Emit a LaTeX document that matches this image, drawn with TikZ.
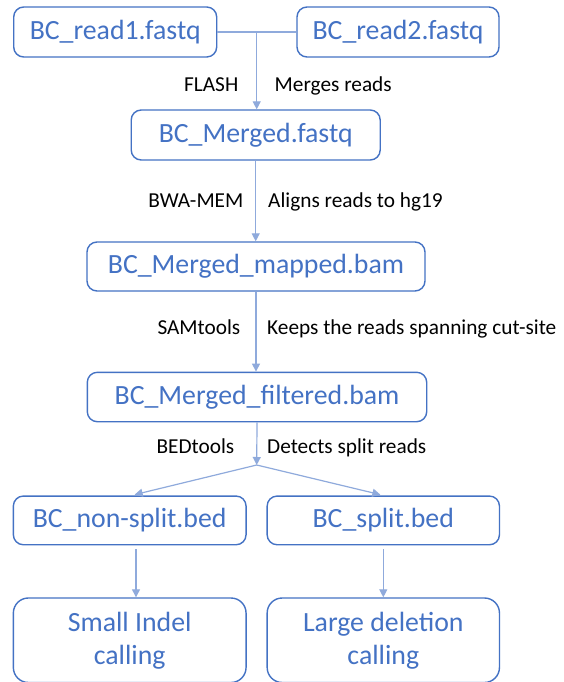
\documentclass[tikz,border=0pt]{standalone}
\usepackage{fontspec}
\setmainfont{Carlito}
\usetikzlibrary{arrows.meta}
\definecolor{boxblue}{HTML}{4472C4}
\definecolor{connblue}{HTML}{8FAADC}
\begin{document}
\begin{tikzpicture}[x=1pt,y=-1pt,
  filebox/.style={draw=boxblue, line width=1.4pt, rounded corners=10pt, text=boxblue,
    inner sep=0pt, font=\fontsize{27.8}{33}\selectfont, align=center},
  conn/.style={draw=connblue, line width=1.2pt},
  arr/.style={conn, -{Triangle[length=8pt,width=8pt]}},
  lbl/.style={inner sep=0pt, font=\fontsize{21.3}{25}\selectfont, text=black}]
\useasboundingbox[fill=white] (0,0) rectangle (563,682);
% boxes
\node[filebox, minimum width=203pt, minimum height=50pt] (r1) at (115.2,32) {BC\_read1.fastq};
\node[filebox, minimum width=202pt, minimum height=50pt] (r2) at (398,32) {BC\_read2.fastq};
\node[filebox, minimum width=249pt, minimum height=50pt] (merged) at (255.7,135) {BC\_Merged.fastq};
\node[filebox, minimum width=338pt, minimum height=49pt] (mapped) at (256,266.5) {BC\_Merged\_mapped.bam};
\node[filebox, minimum width=339.4pt, minimum height=49.4pt] (filtered) at (257,397) {BC\_Merged\_filtered.bam};
\node[filebox, minimum width=232.7pt, minimum height=48.7pt] (nonsplit) at (129.7,520.4) {BC\_non-split.bed};
\node[filebox, minimum width=232.3pt, minimum height=48.7pt] (split) at (383.3,520.4) {BC\_split.bed};
\node[filebox, rounded corners=15pt, minimum width=232.7pt, minimum height=84.5pt] (small) at (129.7,640.25) {Small Indel\\calling};
\node[filebox, rounded corners=15pt, minimum width=232.3pt, minimum height=84.5pt] (large) at (383.3,640.25) {Large deletion\\calling};
% junction points
\coordinate (j) at (256.7,32);
\coordinate (b) at (256.7,465);
% connectors
\draw[conn] (r1.east) -- (r2.west);
\draw[arr] (j) -- (j |- merged.north);
\draw[arr] (merged.south) -- (merged.south |- mapped.north);
\draw[arr] (mapped.south) -- (mapped.south |- filtered.north);
\draw[arr] (filtered.south) -- (b);
\draw[arr, shorten >=3pt] (b) -- ([xshift=2pt]nonsplit.north);
\draw[arr, shorten >=3pt] (b) -- (split.north);
\draw[arr] ([xshift=6.3pt,yshift=-4pt]nonsplit.south) -- ([xshift=6.3pt]small.north);
\draw[arr] ([yshift=-4pt]split.south) -- (large.north);
% labels
\node[lbl, anchor=base east] (l1a) at (238.5,92) {FLASH};
\node[lbl, anchor=base west] (l1b) at (274.5,92) {Merges reads};
\node[lbl, anchor=base east] (l2a) at (243.5,207) {BWA-MEM};
\node[lbl, anchor=base west] (l2b) at (268,207) {Aligns reads to hg19};
\node[lbl, anchor=base east] (l3a) at (240.5,334) {SAMtools};
\node[lbl, anchor=base west] (l3b) at (267,334) {Keeps the reads spanning cut-site};
\node[lbl, anchor=base east] (l4a) at (234.5,453) {BEDtools};
\node[lbl, anchor=base west] (l4b) at (267,453) {Detects split reads};
\end{tikzpicture}
\end{document}
